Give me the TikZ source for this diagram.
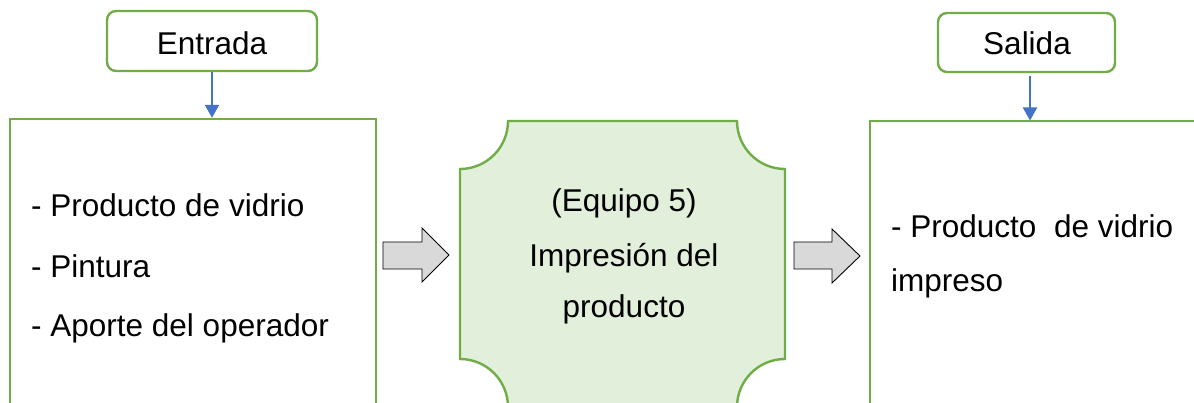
\documentclass[tikz,border=0pt]{standalone}
\usepackage{fontspec}
\setmainfont{Liberation Sans}
\usetikzlibrary{arrows.meta}
\definecolor{grn}{HTML}{70AD47}
\definecolor{grnfill}{HTML}{E2EFDA}
\definecolor{blu}{HTML}{4472C4}
\definecolor{gry}{HTML}{D9D9D9}
\begin{document}
\begin{tikzpicture}[x=1pt,y=-1pt,
  txt/.style={inner sep=0pt,font=\fontsize{31.5}{37}\selectfont},
  topbox/.style={draw=grn,line width=2.4pt,rounded corners=9pt,fill=white,inner sep=0pt},
  bigbox/.style={draw=grn,line width=2.4pt,fill=white,inner sep=0pt},
  procshape/.style={draw=grn,line width=2.4pt,fill=grnfill},
  flow/.style={draw=blu,line width=2.2pt,-{Triangle[width=14pt,length=13pt]}},
  blockarrow/.style={draw=black,line width=0.9pt,fill=gry,line join=miter}]
\useasboundingbox (0,0) rectangle (1194,403);
\clip (0,0) rectangle (1194,403);
% big boxes
\node[bigbox,minimum width=366pt,minimum height=300pt] (lbox) at (193,269) {};
\node[bigbox,minimum width=360pt,minimum height=300pt] (rbox) at (1050,271) {};
% central process shape
\draw[procshape] (508,121) -- (737,121)
  arc[start angle=180,end angle=90,radius=48] -- (785,359)
  arc[start angle=270,end angle=180,radius=48] -- (508,407)
  arc[start angle=0,end angle=-90,radius=48] -- (460,169)
  arc[start angle=90,end angle=0,radius=48] -- cycle;
% top boxes
\node[topbox,minimum width=210pt,minimum height=60pt] (entrada) at (212,41) {};
\node[txt,anchor=base] (entradat) at (212,55) {Entrada};
\node[topbox,minimum width=177pt,minimum height=59pt] (salida) at (1026.5,42.5) {};
\node[txt,anchor=base] (salidat) at (1027,55) {Salida};
% blue connectors
\draw[flow] (entrada.south) -- (entrada.south |- lbox.north);
\coordinate (s1) at (1030,76);
\coordinate (s2) at (1030,120.5);
\draw[flow] (s1) -- (s2);
% block arrows
\draw[blockarrow] (383,242) -- (422,242) -- (422,228) -- (449,255) -- (422,282) -- (422,269) -- (383,269) -- cycle;
\draw[blockarrow] (794,242) -- (832,242) -- (832,229) -- (860,256) -- (832,283) -- (832,269) -- (794,269) -- cycle;
% left texts
\node[txt,anchor=base west] (l1) at (31,217) {- Producto de vidrio};
\node[txt,anchor=base west] (l2) at (31,278) {- Pintura};
\node[txt,anchor=base west] (l3) at (31,337) {- Aporte del operador};
% center texts
\node[txt,anchor=base] (c1) at (624,212) {(Equipo 5)};
\node[txt,anchor=base] (c2) at (624,267) {Impresión del};
\node[txt,anchor=base] (c3) at (624,318) {producto};
% right texts
\node[txt,anchor=base west] (r1) at (891,238) {- Producto\ \ de vidrio};
\node[txt,anchor=base west] (r2) at (891,292) {impreso};
\end{tikzpicture}
\end{document}
